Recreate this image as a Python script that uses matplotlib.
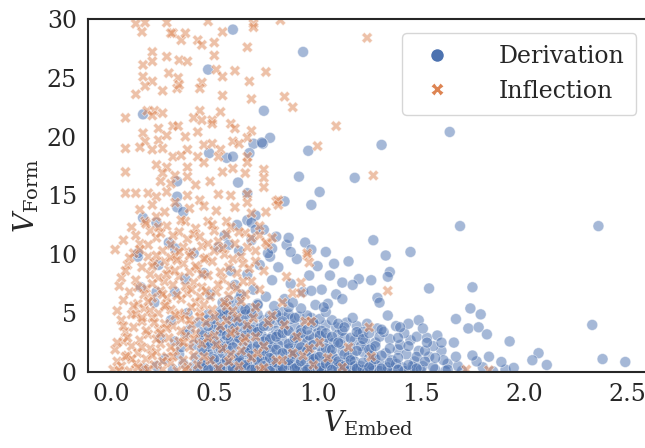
import numpy as np
import pandas as pd
import matplotlib
matplotlib.use("Agg")
import matplotlib.pyplot as plt
import seaborn as sns
from matplotlib.lines import Line2D

# Derivation: dense core, y 0-5
deriv_core = [
    (0.39,0.4),(0.41,1.2),(0.40,2.3),(0.43,0.1),(0.44,3.1),(0.42,4.2),(0.45,1.8),(0.38,3.6),(0.44,0.8),(0.43,2.7),
    (0.46,0.3),(0.47,1.5),(0.48,2.9),(0.46,4.4),(0.49,0.9),(0.50,3.8),(0.48,2.1),(0.47,4.9),(0.49,1.3),(0.46,2.5),(0.50,0.2),(0.48,3.3),
    (0.51,0.6),(0.52,1.9),(0.53,3.2),(0.54,4.6),(0.52,0.1),(0.55,2.6),(0.53,1.1),(0.51,4.0),(0.54,3.7),(0.55,0.8),(0.52,2.4),(0.53,5.2),(0.54,1.6),
    (0.56,0.4),(0.57,1.8),(0.58,3.0),(0.59,4.3),(0.56,2.2),(0.58,0.9),(0.60,3.6),(0.57,5.0),(0.59,1.3),(0.56,4.8),(0.60,0.1),(0.58,2.7),(0.57,3.9),(0.59,5.6),
    (0.61,0.5),(0.62,1.4),(0.63,2.8),(0.64,4.1),(0.61,3.3),(0.63,0.2),(0.65,2.0),(0.62,4.7),(0.64,1.0),(0.61,2.4),(0.65,3.6),(0.63,5.3),(0.62,0.8),
    (0.66,0.3),(0.67,1.6),(0.68,2.9),(0.69,4.0),(0.66,2.3),(0.68,0.7),(0.70,3.4),(0.67,4.6),(0.69,1.2),(0.66,3.8),(0.70,0.1),(0.68,2.0),(0.67,5.4),
    (0.71,0.6),(0.72,1.9),(0.73,3.1),(0.74,4.4),(0.71,2.5),(0.73,0.2),(0.75,1.4),(0.72,3.7),(0.74,0.9),(0.71,4.9),(0.75,2.8),(0.73,1.1),
    (0.76,0.4),(0.77,1.7),(0.78,3.0),(0.79,4.2),(0.76,2.3),(0.78,0.8),(0.80,3.5),(0.77,4.8),(0.79,1.3),(0.76,3.9),(0.80,0.2),(0.78,2.1),
    (0.81,0.5),(0.82,1.5),(0.83,2.7),(0.84,4.0),(0.81,3.2),(0.83,0.1),(0.85,1.9),(0.82,4.6),(0.84,0.9),(0.81,2.3),(0.85,3.5),(0.83,5.1),
    (0.86,0.3),(0.87,1.4),(0.88,2.6),(0.89,3.9),(0.86,2.0),(0.88,0.7),(0.90,3.1),(0.87,4.5),(0.89,1.1),(0.86,4.9),(0.90,0.1),(0.88,1.8),
    (0.91,0.6),(0.92,1.7),(0.93,2.9),(0.94,4.1),(0.91,2.3),(0.93,0.2),(0.95,1.3),(0.92,3.6),(0.94,0.8),(0.91,4.7),(0.95,2.6),
    (0.96,0.4),(0.97,1.5),(0.98,2.8),(0.99,3.9),(0.96,2.1),(0.98,0.9),(1.00,3.3),(0.97,4.6),(0.99,1.2),(0.96,3.1),(1.00,0.1),
    (1.01,0.5),(1.02,1.6),(1.03,2.7),(1.04,4.0),(1.01,2.2),(1.03,0.2),(1.05,1.2),(1.02,3.5),(1.04,0.9),(1.01,4.5),(1.05,2.9),
    (1.06,0.3),(1.07,1.4),(1.08,2.5),(1.09,3.8),(1.06,2.0),(1.08,0.7),(1.10,3.2),(1.07,4.4),(1.09,1.1),(1.10,0.2),
    (1.11,0.6),(1.12,1.8),(1.13,2.9),(1.14,4.2),(1.11,2.4),(1.13,0.3),(1.15,1.3),(1.12,3.5),(1.14,0.8),
    (1.16,0.4),(1.17,1.5),(1.18,2.7),(1.19,3.9),(1.16,2.1),(1.18,0.9),(1.20,3.2),(1.17,4.6),(1.19,0.1),
    (1.21,0.5),(1.22,1.7),(1.23,2.6),(1.24,4.1),(1.21,2.2),(1.23,0.2),(1.25,1.2),(1.22,3.4),
    (1.26,0.3),(1.27,1.4),(1.28,2.5),(1.29,3.7),(1.26,2.0),(1.28,0.8),(1.30,3.0),(1.27,0.1),
    (1.31,0.6),(1.33,1.6),(1.35,2.8),(1.37,0.3),(1.39,1.9),(1.32,3.4),(1.36,1.0),(1.38,3.9),(1.34,0.1),(1.40,2.3),
    (1.41,0.4),(1.43,1.5),(1.45,2.7),(1.47,0.9),(1.49,1.8),(1.42,3.3),(1.46,0.2),(1.48,3.0),(1.44,4.1),
    (1.51,0.5),(1.54,1.3),(1.57,0.2),(1.60,1.8),(1.63,0.7),(1.53,2.9),(1.58,3.1),(1.62,0.1),(1.56,2.2),
    (0.42,0.2),(0.46,0.6),(0.50,0.4),(0.54,0.05),(0.58,0.5),(0.62,0.1),(0.66,0.6),(0.70,0.3),(0.74,0.05),(0.78,0.5),
    (0.82,0.2),(0.86,0.6),(0.90,0.4),(0.94,0.05),(0.98,0.3),(1.02,0.1),(1.06,0.6),(1.10,0.4),(1.14,0.05),(1.18,0.5),
    (1.22,0.2),(1.26,0.6),(1.30,0.1),(1.34,0.4),(1.38,0.7),(1.42,0.1),(1.46,0.5),(1.50,0.2),
    (0.16,0.3),(0.22,0.5),(0.26,1.1),(0.30,0.2),(0.33,1.5),(0.35,0.7),(0.29,4.4),(0.31,2.6),(0.36,3.2),(0.34,2.1),(0.24,2.9),(0.37,5.0),
    (1.70,0.1),(1.80,0.4),(1.85,0.05),(1.91,0.2),
]

# Derivation: second layer of the core
deriv_core2 = [
    (0.44,0.7),(0.44,1.9),(0.44,3.4),(0.47,0.2),(0.47,2.4),(0.47,3.9),(0.50,1.1),(0.50,2.6),(0.50,4.5),
    (0.53,0.4),(0.53,2.0),(0.53,3.5),(0.53,4.9),(0.56,1.0),(0.56,3.1),(0.56,5.3),(0.59,0.3),(0.59,2.1),(0.59,3.7),(0.59,4.7),
    (0.62,1.2),(0.62,2.9),(0.62,4.3),(0.62,6.2),(0.65,0.6),(0.65,1.7),(0.65,3.1),(0.65,4.9),(0.68,0.2),(0.68,1.4),(0.68,3.6),(0.68,5.0),
    (0.71,1.0),(0.71,2.2),(0.71,3.4),(0.71,5.8),(0.74,0.5),(0.74,1.8),(0.74,2.6),(0.74,3.9),(0.77,0.1),(0.77,1.2),(0.77,2.8),(0.77,4.4),
    (0.80,0.8),(0.80,1.9),(0.80,3.0),(0.80,4.9),(0.83,0.4),(0.83,1.6),(0.83,3.3),(0.83,4.3),(0.86,1.0),(0.86,2.4),(0.86,3.5),(0.86,5.5),
    (0.89,0.3),(0.89,1.5),(0.89,2.9),(0.89,4.6),(0.92,0.9),(0.92,2.1),(0.92,3.3),(0.95,0.2),(0.95,1.8),(0.95,3.6),(0.95,4.8),
    (0.98,1.1),(0.98,2.3),(0.98,4.2),(1.01,0.4),(1.01,1.3),(1.01,3.1),(1.04,0.7),(1.04,2.0),(1.04,3.3),(1.04,5.1),
    (1.07,0.2),(1.07,1.9),(1.07,3.0),(1.10,0.9),(1.10,2.5),(1.10,4.1),(1.13,0.5),(1.13,1.5),(1.13,3.8),(1.16,1.0),(1.16,2.9),
    (1.19,0.3),(1.19,1.8),(1.19,3.4),(1.22,0.8),(1.22,2.8),(1.25,0.4),(1.25,1.9),(1.25,3.3),(1.28,1.1),(1.28,2.2),
    (1.31,0.3),(1.31,1.4),(1.31,3.6),(1.35,0.8),(1.35,2.0),(1.39,0.2),(1.39,1.2),(1.39,2.9),(1.44,0.6),(1.44,2.2),
    (1.48,0.3),(1.48,1.3),(1.52,0.9),(1.52,1.8),(1.56,0.4),(1.61,1.0),(1.68,0.5),(1.77,0.9),
]

# Derivation: middle band, y 5-13
deriv_mid = [
    (0.57,6.1),(0.60,7.4),(0.63,6.6),(0.66,8.3),(0.69,7.0),(0.72,9.1),(0.75,6.4),(0.78,7.8),(0.81,8.9),(0.84,6.2),
    (0.87,7.5),(0.90,9.6),(0.93,6.8),(0.96,8.2),(0.99,5.7),(1.02,7.0),(0.62,10.3),(0.68,11.2),(0.74,12.1),(0.79,5.6),
    (0.85,10.8),(0.92,5.4),(0.97,6.9),(1.05,5.8),(1.09,6.6),(0.54,5.9),(0.58,8.6),(0.65,5.3),(0.71,5.7),(0.77,9.8),
    (0.88,5.9),(0.94,11.0),(1.00,9.0),(1.03,5.5),(1.08,9.2),(0.70,13.3),(0.66,12.9),(0.45,8.4),(0.48,6.6),(0.52,10.6),
    (0.40,10.1),(0.36,7.9),(0.31,6.8),(0.13,9.8),(0.23,9.1),(0.145,7.2),(0.22,6.8),(0.21,5.9),
    (0.86,11.4),(0.80,11.5),(0.78,10.5),(0.97,10.4),(0.87,10.2),(0.76,10.1),(0.28,11.0),(0.31,10.5),(0.55,11.6),
    (0.61,12.5),(0.68,12.7),(0.70,12.1),(0.57,10.8),(0.13,10.1),
]

# Derivation: sparse points
deriv_sparse = [
    (0.59,29.1),(0.93,27.2),(0.47,25.7),(0.155,21.9),(0.74,22.2),(0.77,19.9),(0.69,19.4),(0.735,19.4),(0.955,18.8),
    (0.475,18.6),(0.56,18.2),(0.59,18.3),(0.67,18.6),(0.91,16.6),(1.01,15.3),(0.84,14.5),(0.97,14.2),(0.615,16.1),
    (0.32,16.2),(0.32,14.9),(0.155,13.1),(0.22,12.7),(1.64,20.4),(1.31,19.3),(1.18,16.5),(1.69,12.4),(2.36,12.4),
    (1.27,11.2),(1.04,10.2),(1.45,10.2),(1.33,9.9),(1.15,9.4),(1.35,8.5),(1.06,8.2),(1.20,7.9),(1.26,7.8),(1.12,7.6),
    (1.17,7.4),(1.54,7.1),(1.75,7.2),(1.29,6.3),(1.30,5.9),(1.12,6.2),(1.74,5.4),(1.79,4.9),(1.34,4.8),(1.67,4.5),
    (1.49,4.4),(2.33,4.0),(1.40,3.8),(1.73,3.7),(1.78,3.8),(1.82,3.2),(1.93,2.6),(1.51,3.7),(1.53,2.5),(1.60,2.5),
    (1.66,2.5),(2.07,1.6),(2.04,1.0),(2.11,0.6),(2.38,1.1),(2.49,0.85),(1.95,0.35),(1.89,0.85),(1.83,1.3),(1.75,1.4),
    (1.67,1.3),(1.57,1.2),(1.63,0.2),(1.34,8.1),(0.73,19.5),(0.66,15.2),(0.32,14.0),(0.35,13.6),
]

# Inflection: upper part, y > 12.5
infl_top = [
    (0.12,29.6),(0.165,29.7),(0.15,28.9),(0.27,29.7),(0.30,28.8),(0.29,28.8),(0.34,28.2),(0.36,28.8),(0.42,28.2),(0.44,27.8),
    (0.47,29.8),(0.50,28.0),(0.54,28.9),(0.50,26.9),(0.69,29.6),(0.69,29.3),(0.66,27.6),(0.82,29.9),(0.20,27.2),(0.20,26.4),
    (0.27,26.8),(0.33,26.5),(0.37,26.4),(0.155,26.1),(0.20,24.7),(0.155,25.1),(0.165,24.3),(0.28,25.4),(0.325,25.0),(0.32,24.1),
    (0.25,23.9),(0.33,24.4),(0.44,24.6),(0.43,24.1),(0.51,25.7),(0.54,25.1),(0.60,25.6),(0.67,24.7),(0.75,25.5),(0.54,23.5),
    (0.68,23.2),(0.84,23.4),(0.88,22.5),(0.12,23.6),(0.07,21.6),(0.175,22.2),(0.21,22.2),(0.20,21.8),(0.25,22.0),(0.43,22.2),
    (0.40,21.6),(0.44,21.4),(0.49,21.4),(0.53,22.1),(0.49,21.1),(0.30,20.9),(0.325,20.9),(0.23,20.7),(0.155,20.3),(0.165,19.6),
    (0.23,19.7),(0.27,20.1),(0.36,20.0),(0.42,20.4),(0.58,21.1),(0.60,20.7),(0.68,20.5),(0.66,19.9),(0.07,19.0),(0.14,19.1),
    (0.20,18.9),(0.25,19.0),(0.37,18.9),(0.45,19.3),(0.49,19.4),(0.53,18.9),(0.59,19.6),(0.62,19.4),(0.30,18.3),(0.34,18.4),
    (0.42,18.3),(0.52,18.3),(0.66,18.3),(0.66,17.8),(0.07,17.0),(0.22,17.6),(0.27,17.4),(0.25,16.9),(0.37,17.4),(0.45,17.8),
    (0.31,16.7),(0.24,16.2),(0.29,16.0),(0.37,16.6),(0.41,15.9),(0.48,16.2),(0.54,17.0),(0.59,17.3),(0.65,16.9),(0.74,17.2),
    (0.07,15.2),(0.12,15.2),(0.18,15.2),(0.22,14.9),(0.27,15.3),(0.37,15.0),(0.43,14.6),(0.52,15.1),(0.58,15.0),(0.66,15.1),
    (0.66,14.4),(0.80,14.5),(0.75,13.6),(0.165,12.8),(0.22,13.2),(0.36,12.8),(0.47,12.8),(0.56,12.8),(1.00,19.2),(0.74,16.5),
    (0.74,15.7),(0.81,14.6),(0.81,14.2),(1.09,20.9),(1.24,28.4),(1.27,16.7),
    (0.14,13.8),(0.20,14.2),(0.26,13.6),(0.31,14.4),(0.38,13.9),(0.45,14.1),(0.51,13.7),(0.60,14.0),(0.68,13.5),
]

# Inflection: middle band, y 5-12.5
infl_mid = [
    (0.10,12.3),(0.19,12.0),(0.27,12.4),(0.33,11.9),(0.41,12.2),(0.50,12.0),(0.58,12.3),(0.65,11.8),(0.72,12.4),
    (0.06,11.2),(0.14,10.9),(0.22,11.4),(0.29,10.8),(0.37,11.3),(0.44,10.7),(0.52,11.1),(0.60,10.9),(0.68,11.4),(0.76,10.8),
    (0.02,10.4),(0.11,10.1),(0.18,9.8),(0.25,10.3),(0.31,9.9),(0.39,10.2),(0.46,9.7),(0.55,10.0),(0.63,9.8),(0.70,10.3),
    (0.08,9.1),(0.15,8.9),(0.21,9.3),(0.28,8.7),(0.35,9.2),(0.42,8.8),(0.49,9.4),(0.57,8.9),(0.64,9.2),(0.74,8.6),
    (0.05,8.0),(0.12,7.8),(0.19,8.3),(0.26,7.7),(0.33,8.1),(0.40,7.6),(0.47,8.2),(0.54,7.9),(0.61,8.4),(0.68,7.7),
    (0.04,7.3),(0.09,6.8),(0.17,7.1),(0.24,6.9),(0.30,7.4),(0.37,6.7),(0.44,7.2),(0.51,6.8),(0.58,7.3),(0.65,6.6),(0.72,7.0),
    (0.06,6.1),(0.13,5.8),(0.20,6.3),(0.27,5.7),(0.34,6.2),(0.41,5.9),(0.48,6.4),(0.56,5.6),(0.63,6.0),(0.70,5.5),
    (0.03,5.2),(0.10,4.9),(0.16,5.4),(0.23,5.0),(0.29,5.3),(0.36,4.8),(0.43,5.1),(0.50,4.7),(0.59,5.2),
    (0.18,10.8),(0.23,8.0),(0.26,9.4),(0.30,11.6),(0.32,6.5),(0.35,10.6),(0.38,8.5),(0.40,11.7),(0.43,6.4),(0.45,9.6),
    (0.20,7.5),(0.27,6.3),(0.33,10.2),(0.36,7.3),(0.41,9.0),(0.24,11.8),(0.29,9.7),(0.16,6.6),(0.22,9.9),(0.39,5.5),
    (0.47,10.9),(0.53,8.5),(0.56,11.7),(0.61,7.1),(0.66,10.6),(0.19,5.2),
    (0.72,11.6),(0.75,11.0),(0.78,11.4),(0.83,5.9),(0.85,8.1),(0.92,7.6),(0.88,6.7),(0.92,6.7),(0.95,9.9),(0.96,9.3),
    (0.95,10.1),(1.34,6.9),
    (0.12,11.6),(0.17,12.6),(0.23,12.3),(0.34,12.9),(0.43,11.5),(0.49,12.5),(0.54,10.5),(0.62,11.9),(0.70,9.4),
    (0.09,9.7),(0.14,10.4),(0.20,9.0),(0.27,8.3),(0.32,9.5),(0.38,9.9),(0.44,8.3),(0.50,10.3),(0.59,9.6),(0.67,8.8),
    (0.07,8.6),(0.13,7.2),(0.18,6.0),(0.25,6.6),(0.31,8.6),(0.39,7.0),(0.46,6.9),(0.52,7.4),(0.57,6.5),(0.64,7.7),
    (0.11,5.6),(0.26,5.6),(0.33,5.0),(0.45,5.7),(0.49,5.3),(0.55,5.9),
]

# Inflection: low band, y 0-5
infl_low = [
    (0.01,0.2),(0.03,0.9),(0.02,1.9),(0.05,0.5),(0.06,2.6),(0.07,3.4),(0.05,4.4),(0.08,1.4),(0.09,0.1),(0.10,2.2),
    (0.11,3.8),(0.12,0.7),(0.13,1.6),(0.14,2.7),(0.15,4.3),(0.16,0.3),(0.17,1.1),(0.18,3.2),(0.19,2.0),(0.20,4.6),
    (0.21,0.6),(0.22,1.7),(0.23,3.6),(0.24,2.4),(0.25,0.2),(0.26,4.1),(0.27,1.3),(0.28,2.9),(0.29,0.8),(0.30,3.9),
    (0.31,1.8),(0.32,0.1),(0.33,2.6),(0.34,4.5),(0.35,1.0),(0.36,3.0),(0.37,0.4),(0.38,2.1),(0.39,4.0),(0.40,1.4),
    (0.41,3.3),(0.42,0.6),(0.44,2.4),(0.46,4.2),(0.48,1.0),(0.50,3.1),(0.52,0.3),(0.54,2.0),(0.56,4.4),(0.58,1.5),
    (0.60,3.5),(0.62,0.5),(0.64,2.6),(0.66,4.0),(0.68,1.2),(0.70,3.0),(0.72,0.2),(0.74,2.2),(0.04,0.1),(0.08,2.9),
    (0.12,4.9),(0.18,0.2),(0.22,2.8),(0.27,3.7),(0.31,4.8),(0.35,2.5),(0.43,4.7),(0.47,2.9),(0.53,3.9),(0.57,0.9),
    (0.63,1.8),(0.69,4.6),
    (0.76,4.2),(0.78,4.8),(0.80,1.0),(0.83,1.0),(0.84,4.0),(0.74,0.35),(0.88,1.6),(0.93,1.4),(0.96,2.0),(0.98,0.6),
    (0.94,4.3),(0.97,4.3),(1.25,3.8),(1.26,1.3),(1.72,0.2),(1.83,0.15),(1.01,2.5),(1.05,1.2),(1.12,0.4),(0.90,3.0),(1.15,2.1),
    (0.15,4.6),(0.21,4.2),(0.38,4.4),(0.61,4.6),(0.17,3.5),(0.24,3.3),(0.29,2.1),(0.34,3.5),(0.40,2.8),(0.45,1.3),
    (0.51,2.3),(0.58,3.3),(0.65,2.9),(0.71,1.6),(0.10,1.1),(0.15,2.1),(0.20,1.4),(0.25,0.9),(0.30,1.3),(0.36,0.2),
    (0.13,0.4),(0.07,1.3),(0.03,2.5),(0.06,3.9),
]

deriv = np.array(deriv_core + deriv_core2 + deriv_mid + deriv_sparse)
infl = np.array(infl_top + infl_mid + infl_low)

df = pd.DataFrame({
    "embed": np.concatenate([deriv[:, 0], infl[:, 0]]),
    "form": np.concatenate([deriv[:, 1], infl[:, 1]]),
    "type": ["Derivation"] * len(deriv) + ["Inflection"] * len(infl),
})

sns.set_theme(style="white")
plt.rcParams['font.family'] = ['DejaVu Serif']
plt.rcParams['mathtext.fontset'] = 'dejavuserif'

pal = sns.color_palette("deep")
fig = plt.figure(figsize=(6.45, 4.48), dpi=100)
ax = fig.add_axes([88/645, 76/448, 560/645, 353/448])

sns.scatterplot(data=df, x="embed", y="form", hue="type", style="type",
                markers={"Derivation": "o", "Inflection": "X"},
                palette={"Derivation": pal[0], "Inflection": pal[1]},
                alpha=0.5, s=62, edgecolor="white", linewidth=0.6,
                legend=False, ax=ax)

ax.set_xlim(-0.1115, 2.60)
ax.set_ylim(0, 30)
ax.set_xticks([0.0, 0.5, 1.0, 1.5, 2.0, 2.5])
ax.set_yticks([0, 5, 10, 15, 20, 25, 30])
ax.tick_params(labelsize=17, length=0, pad=8)
ax.set_xlabel(r"$V_{\mathrm{Embed}}$", fontsize=20, labelpad=2)
ax.set_ylabel(r"$V_{\mathrm{Form}}$", fontsize=20, labelpad=4)
for sp in ax.spines.values():
    sp.set_color("#262626")
    sp.set_linewidth(1.5)
ax.spines["right"].set_visible(False)

handles = [
    Line2D([], [], marker="o", linestyle="", color=pal[0], markersize=10, markeredgecolor="white"),
    Line2D([], [], marker="X", linestyle="", color=pal[1], markersize=10, markeredgecolor="white"),
]
ax.legend(handles, ["Derivation", "Inflection"], loc="upper right",
          bbox_to_anchor=(0.979, 0.960), borderaxespad=0, fontsize=17,
          handletextpad=1.6, borderpad=0.5, labelspacing=0.5, frameon=True)

fig.savefig("out.png", dpi=100)
